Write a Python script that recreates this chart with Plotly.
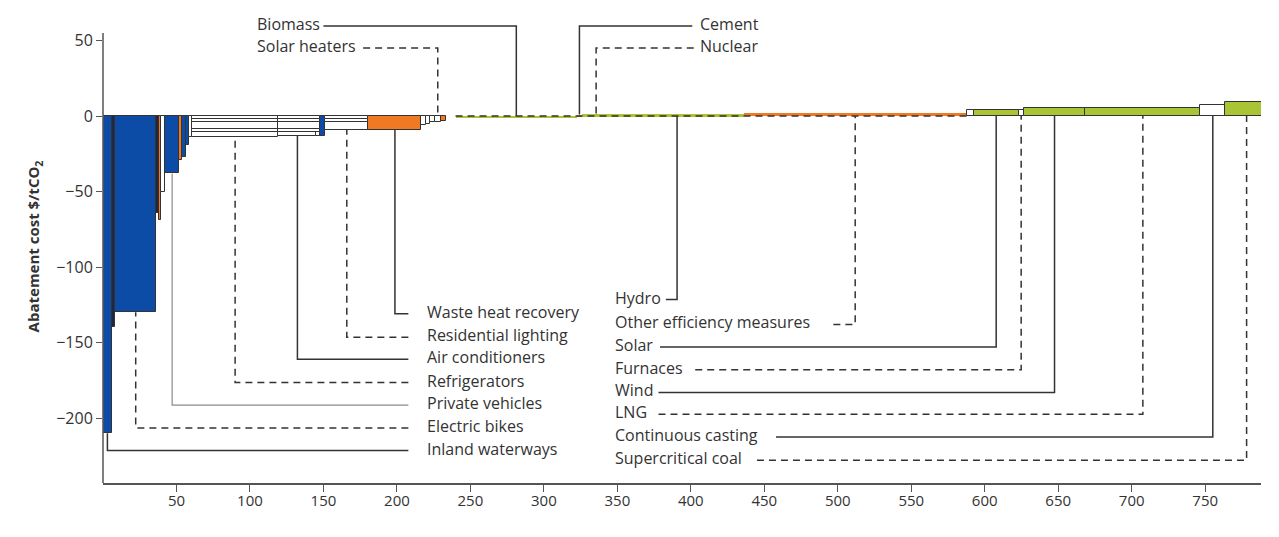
import plotly.graph_objects as go

# ---------------- data ----------------
# abatement potential (width, MtCO2) and cost ($/tCO2) of each measure, in merit order
widths = [6.0, 2.3, 27.9, 2.0, 1.0, 3.1, 9.5, 2.2, 2.3, 1.9, 2.2, 59.0, 25.8, 2.6, 3.4,
          29.4, 36.1, 3.3, 2.7, 3.0, 4.2, 3.4, 6.6, 82.7, 3.2, 19.5, 90.7, 151.7, 4.8,
          30.6, 3.4, 42.0, 78.2, 17.0, 29.0]
costs = [-210, -140, -130, -64, -69, -50, -38, -29, -27, -19, -14, -14, -13, -13, -13,
         -9, -9.3, -6, -5, -4, -4, -3, 0, -1.5, 1, 1.3, 1.3, 1.8, 4,
         4, 4, 5, 5, 7.3, 9.5]
kinds = ["B", "N", "B", "N", "O", "W", "B", "O", "B", "B", "W", "W", "W", "W", "B",
         "W", "O", "W", "W", "W", "W", "O", "-", "G", "O", "G", "G", "O", "W",
         "G", "W", "G", "G", "W", "G"]
names = ["Inland waterways", "", "Electric bikes", "", "", "", "Private vehicles", "", "", "", "",
         "Refrigerators", "Air conditioners", "", "", "Residential lighting", "Waste heat recovery",
         "", "", "", "Solar heaters", "", "", "Biomass", "Cement", "Nuclear", "Hydro",
         "Other efficiency measures", "", "Solar", "Furnaces", "Wind", "LNG",
         "Continuous casting", "Supercritical coal"]

# thin overlapping sub-measures drawn on top of the white bars (start, end, cost)
over_start = [60.4, 60.4, 60.4, 60.4, 119.4, 119.4, 119.4, 119.4, 151.2, 151.2]
over_end = [119.4, 119.4, 119.4, 119.4, 147.8, 147.8, 147.8, 147.8, 180.6, 180.6]
over_cost = [-10.4, -8.7, -3.8, -2.2, -10.4, -8.7, -3.8, -2.2, -3.8, -2.2]

# labels
left_labels = ["Waste heat recovery", "Residential lighting", "Air conditioners", "Refrigerators",
               "Private vehicles", "Electric bikes", "Inland waterways"]
left_label_y = [-131, -146.5, -161, -176.5, -191.5, -206.5, -221.5]
left_style = ["solid", "dash", "solid", "dash", "thin", "dash", "solid"]
left_text_x = 219.4
left_line_end = 207.8

right_labels = ["Hydro", "Other efficiency measures", "Solar", "Furnaces", "Wind", "LNG",
                "Continuous casting", "Supercritical coal"]
right_label_y = [-121.5, -138, -153, -168, -183, -197.5, -212.5, -228]
right_line_start = [383, 497, 379, 403, 378, 378, 458, 445]
right_style = ["solid", "dash", "solid", "dash", "solid", "dash", "solid", "dash"]
right_text_x = 347.3

top_labels = ["Biomass", "Solar heaters", "Cement", "Nuclear"]
top_label_x = [103.1, 103.1, 405, 405]
top_label_y = [59.6, 45.0, 59.6, 45.0]
top_line_start = [150, 177, 401, 402]
top_style = ["solid", "dash", "solid", "dash"]

xticks = [50, 100, 150, 200, 250, 300, 350, 400, 450, 500, 550, 600, 650, 700, 750]
yticks = [50, 0, -50, -100, -150, -200]

# ---------------- styling ----------------
palette = {"B": "#0c4ba6", "N": "#1d2842", "O": "#f07a24", "W": "#ffffff",
           "G": "#a9c536", "-": "rgba(0,0,0,0)"}
INK = "#333333"
FONT = "Open Sans"

starts, centers = [], []
acc = 0.0
for w in widths:
    starts.append(acc)
    centers.append(acc + w / 2)
    acc += w

bar_colors = [palette[k] for k in kinds]
line_w = [0 if abs(c) < 2.5 else 1 for c in costs]

fig = go.Figure()
fig.add_trace(go.Bar(x=centers, y=costs, width=widths, marker_color=bar_colors,
                     marker_line_color=INK, marker_line_width=line_w,
                     cliponaxis=False, hoverinfo="skip", showlegend=False))
fig.add_trace(go.Bar(x=[(a + b) / 2 for a, b in zip(over_start, over_end)], y=over_cost,
                     width=[b - a for a, b in zip(over_start, over_end)],
                     marker_color="#ffffff", marker_line_color=INK, marker_line_width=1,
                     hoverinfo="skip", showlegend=False))

dash_map = {"solid": dict(color=INK, width=1.5),
            "dash": dict(color=INK, width=1.5, dash="7px,5px"),
            "thin": dict(color="#8a8a8a", width=1.2)}


def bar_of(name):
    i = names.index(name)
    return centers[i], costs[i]


def leader(xs, ys, style):
    fig.add_trace(go.Scatter(x=xs, y=ys, mode="lines", line=dash_map[style],
                             hoverinfo="skip", showlegend=False))


# dashed trace along the near-zero measures
i0, i1 = names.index("Biomass"), names.index("Other efficiency measures")
leader([starts[i0], starts[i1] + widths[i1]], [0, 0], "dash")

annos = []
for lab, y, st in zip(left_labels, left_label_y, left_style):
    cx, cy = bar_of(lab)
    leader([left_line_end, cx, cx], [y, y, min(cy, 0)], st)
    annos.append(dict(x=left_text_x, y=y, text=lab, xanchor="left", yanchor="middle",
                      showarrow=False, yshift=2))
for lab, y, x0, st in zip(right_labels, right_label_y, right_line_start, right_style):
    cx, cy = bar_of(lab)
    leader([x0, cx, cx], [y, y, min(cy, 0)], st)
    annos.append(dict(x=right_text_x, y=y, text=lab, xanchor="left", yanchor="middle",
                      showarrow=False, yshift=2))
for lab, x, y, x0, st in zip(top_labels, top_label_x, top_label_y, top_line_start, top_style):
    cx, cy = bar_of(lab)
    leader([x0, cx, cx], [y, y, max(cy, 0)], st)
    annos.append(dict(x=x, y=y, text=lab, xanchor="left", yanchor="middle",
                      showarrow=False, yshift=2))

fig.update_layout(
    width=1279, height=537,
    margin=dict(l=95, r=26, t=2, b=62),
    paper_bgcolor="white", plot_bgcolor="white",
    font=dict(family=FONT, size=16, color=INK),
    barmode="overlay", bargap=0,
    annotations=annos,
    shapes=[dict(type="line", xref="paper", yref="y", x0=0, x1=0, y0=-243, y1=55,
                 line=dict(color="#555555", width=1.5), layer="above")],
    xaxis=dict(range=[0, 788], tickvals=xticks, ticks="outside", ticklen=7,
               tickcolor="#555555", showline=True, linecolor="#555555", linewidth=1.5,
               showgrid=False, zeroline=False, tickfont=dict(size=15, color=INK),
               ticklabelstandoff=-4),
    yaxis=dict(range=[-243, 70.2], tickvals=yticks, ticks="outside", ticklen=6,
               tickcolor="#555555", showline=False, showgrid=False, zeroline=False,
               tickfont=dict(size=16, color=INK),
               title=dict(text="<b>Abatement cost $/tCO<sub>2</sub></b>",
                          font=dict(size=15, color=INK), standoff=12)),
)

fig.write_html("out.html")
